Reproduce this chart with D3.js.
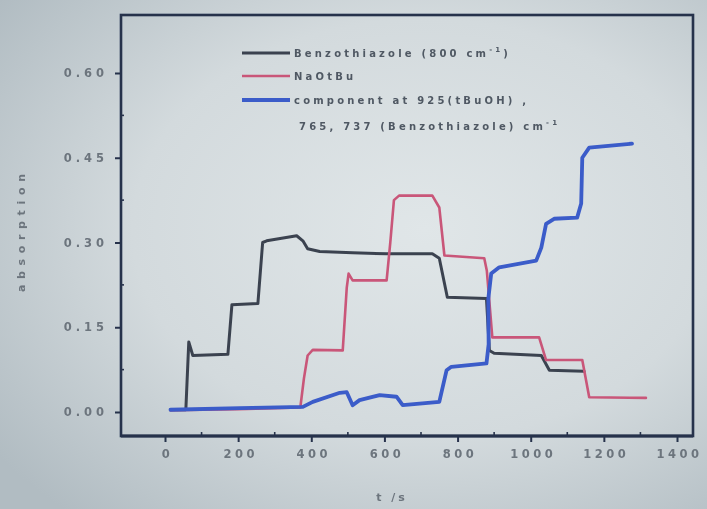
<!DOCTYPE html>
<html>
<head>
<meta charset="utf-8">
<script src="https://cdn.jsdelivr.net/npm/d3@7/dist/d3.min.js"></script>
<style>
  html, body { margin: 0; padding: 0; background: #c9d1d5; }
  svg { display: block; }
  text { font-family: "DejaVu Sans", sans-serif; font-weight: bold; }
</style>
</head>
<body>
<svg></svg>
<script>
var xTicks = [0, 200, 400, 600, 800, 1000, 1200, 1400];
var yTicks = [0.00, 0.15, 0.30, 0.45, 0.60];

var benzoT = [15, 57, 65, 76, 172, 183, 254, 267, 278, 360, 377, 390, 423, 513, 606, 731, 750, 772, 879, 887, 900, 1029, 1051, 1146];
var benzoA = [0.004, 0.004, 0.124, 0.100, 0.102, 0.190, 0.192, 0.300, 0.303, 0.312, 0.303, 0.289, 0.284, 0.282, 0.280, 0.280, 0.272, 0.203, 0.201, 0.109, 0.104, 0.100, 0.074, 0.072];

var naT = [15, 200, 370, 380, 390, 404, 486, 497, 502, 513, 606, 616, 626, 640, 731, 750, 764, 873, 880, 895, 1023, 1042, 1141, 1160, 1315];
var naA = [0.003, 0.005, 0.008, 0.060, 0.100, 0.110, 0.109, 0.220, 0.245, 0.233, 0.233, 0.300, 0.375, 0.383, 0.383, 0.362, 0.277, 0.272, 0.250, 0.132, 0.132, 0.092, 0.092, 0.026, 0.025];

var compT = [15, 205, 377, 404, 478, 497, 513, 532, 587, 633, 650, 750, 770, 783, 879, 885, 884, 892, 914, 1015, 1029, 1042, 1064, 1127, 1138, 1141, 1160, 1277];
var compA = [0.004, 0.007, 0.009, 0.018, 0.034, 0.035, 0.012, 0.021, 0.030, 0.027, 0.012, 0.018, 0.074, 0.080, 0.086, 0.120, 0.200, 0.245, 0.256, 0.268, 0.291, 0.333, 0.342, 0.344, 0.369, 0.450, 0.468, 0.475];

var seriesNames = ['Benzothiazole (800 cm', 'NaOtBu', 'component at 925(tBuOH) ,'];
var seriesNote = '765, 737 (Benzothiazole) cm';
var xTitle = 't /s';
var yTitle = 'absorption';

/*********chart setup************/
var width = 707;
var height = 509;
var box = {left: 121, right: 693, top: 15, bottom: 436};
var colors = ['#3b4350', '#c95679', '#3b5bc9'];
var strokeW = [3, 2.6, 3.8];

var svg = d3.select('svg')
  .attr('width', width)
  .attr('height', height);

var defs = svg.append('defs');
var grad = defs.append('radialGradient').attr('id', 'bg')
  .attr('cx', '0.6').attr('cy', '0.45').attr('r', '0.75');
grad.append('stop').attr('offset', '0').attr('stop-color', '#e0e6e8');
grad.append('stop').attr('offset', '0.55').attr('stop-color', '#d3dadd');
grad.append('stop').attr('offset', '1').attr('stop-color', '#b1bcc2');
defs.append('filter').attr('id', 'soft')
  .append('feGaussianBlur').attr('stdDeviation', 0.6);

svg.append('rect').attr('width', width).attr('height', height).attr('fill', 'url(#bg)');

var chartG = svg.append('g').attr('filter', 'url(#soft)');

var xScale = d3.scaleLinear().domain([0, 1400]).range([165, 677]);
var yScale = d3.scaleLinear().domain([0, 0.6]).range([412, 73]);

// frame
chartG.append('rect')
  .attr('x', box.left).attr('y', box.top)
  .attr('width', box.right - box.left).attr('height', box.bottom - box.top)
  .attr('fill', 'none').attr('stroke', '#27324c').attr('stroke-width', 2.6);
chartG.append('line')
  .attr('x1', box.left).attr('x2', box.right)
  .attr('y1', box.bottom).attr('y2', box.bottom)
  .attr('stroke', '#27324c').attr('stroke-width', 3.2);

// axes
var axisX = d3.axisBottom(xScale).tickValues(xTicks).tickSize(6).tickPadding(8).tickSizeOuter(0)
  .tickFormat(d3.format('d'));
var axisY = d3.axisLeft(yScale).tickValues(yTicks).tickSize(6).tickPadding(7).tickSizeOuter(0)
  .tickFormat(d3.format('.2f'));

var axisXG = chartG.append('g').attr('transform', 'translate(0,' + box.bottom + ')').call(axisX);
var axisYG = chartG.append('g').attr('transform', 'translate(' + box.left + ',0)').call(axisY);
[axisXG, axisYG].forEach(function(g) {
  g.select('.domain').remove();
  g.selectAll('line').attr('stroke', '#27324c').attr('stroke-width', 2);
  g.selectAll('text').attr('fill', '#6c747d').style('font-size', '11.5px')
    .style('font-family', '"DejaVu Sans", sans-serif');
});
axisXG.selectAll('text').style('letter-spacing', '3.5px').attr('dx', '2px');
axisYG.selectAll('text').style('letter-spacing', '4px');

// minor ticks, inside
var xMinor = xTicks.slice(0, -1).map(function(d, i) { return (d + xTicks[i + 1]) / 2; });
var yMinor = yTicks.slice(0, -1).map(function(d, i) { return (d + yTicks[i + 1]) / 2; });
chartG.selectAll('.xm').data(xMinor).enter().append('line')
  .attr('x1', xScale).attr('x2', xScale)
  .attr('y1', box.bottom).attr('y2', box.bottom - 4)
  .attr('stroke', '#27324c').attr('stroke-width', 1.6);
chartG.selectAll('.ym').data(yMinor).enter().append('line')
  .attr('y1', yScale).attr('y2', yScale)
  .attr('x1', box.left).attr('x2', box.left + 3)
  .attr('stroke', '#27324c').attr('stroke-width', 1.6);

// axis titles
chartG.append('text')
  .attr('transform', 'translate(25,233) rotate(-90)')
  .attr('text-anchor', 'middle')
  .attr('fill', '#6c747d').style('font-size', '11px')
  .attr('textLength', 118).attr('lengthAdjust', 'spacing')
  .text(yTitle);
chartG.append('text')
  .attr('x', 392).attr('y', 501)
  .attr('text-anchor', 'middle')
  .attr('fill', '#6c747d').style('font-size', '11px')
  .style('letter-spacing', '3px')
  .text(xTitle);

// lines
var line = d3.line()
  .x(function(d) { return xScale(d[0]); })
  .y(function(d) { return yScale(d[1]); });
var series = [
  d3.zip(benzoT, benzoA),
  d3.zip(naT, naA),
  d3.zip(compT, compA)
];
chartG.selectAll('.series').data(series).enter().append('path')
  .attr('d', line)
  .attr('fill', 'none')
  .attr('stroke', function(d, i) { return colors[i]; })
  .attr('stroke-width', function(d, i) { return strokeW[i]; })
  .attr('stroke-linejoin', 'round')
  .attr('stroke-linecap', 'round');

// legend
var legRows = [53, 76, 100];
var legG = chartG.append('g');
seriesNames.forEach(function(name, i) {
  legG.append('line')
    .attr('x1', 242).attr('x2', 290)
    .attr('y1', legRows[i]).attr('y2', legRows[i])
    .attr('stroke', colors[i]).attr('stroke-width', strokeW[i]);
  var t = legG.append('text')
    .attr('x', 294).attr('y', legRows[i] + 4)
    .attr('fill', '#4f5863').style('font-size', '10px')
    .style('letter-spacing', '3.2px')
    .text(name);
  if (i === 0) {
    t.append('tspan').attr('dy', -5).style('font-size', '7px').text('-1');
    t.append('tspan').attr('dy', 5).text(')');
  }
});
var note = legG.append('text')
  .attr('x', 299).attr('y', 130)
  .attr('fill', '#4f5863').style('font-size', '10px')
  .style('letter-spacing', '3.2px')
  .text(seriesNote);
note.append('tspan').attr('dy', -5).style('font-size', '7px').text('-1');
</script>
</body>
</html>
